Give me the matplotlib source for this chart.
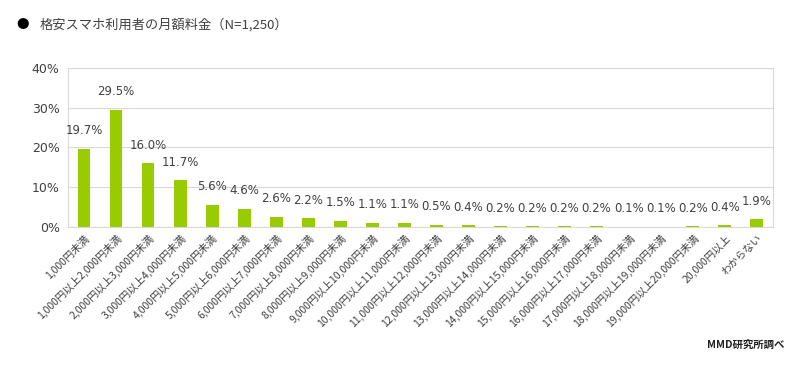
import matplotlib
matplotlib.use("Agg")
import matplotlib.pyplot as plt

plt.rcParams['font.family'] = ['Noto Sans CJK JP', 'DejaVu Sans']

# data
categories = [
    "1,000円未満",
    "1,000円以上2,000円未満",
    "2,000円以上3,000円未満",
    "3,000円以上4,000円未満",
    "4,000円以上5,000円未満",
    "5,000円以上6,000円未満",
    "6,000円以上7,000円未満",
    "7,000円以上8,000円未満",
    "8,000円以上9,000円未満",
    "9,000円以上10,000円未満",
    "10,000円以上11,000円未満",
    "11,000円以上12,000円未満",
    "12,000円以上13,000円未満",
    "13,000円以上14,000円未満",
    "14,000円以上15,000円未満",
    "15,000円以上16,000円未満",
    "16,000円以上17,000円未満",
    "17,000円以上18,000円未満",
    "18,000円以上19,000円未満",
    "19,000円以上20,000円未満",
    "20,000円以上",
    "わからない",
]
values = [19.7, 29.5, 16.0, 11.7, 5.6, 4.6, 2.6, 2.2, 1.5, 1.1, 1.1,
          0.5, 0.4, 0.2, 0.2, 0.2, 0.2, 0.1, 0.1, 0.2, 0.4, 1.9]
yticks = [0, 10, 20, 30, 40]

title = "格安スマホ利用者の月額料金（N=1,250）"
source = "MMD研究所調べ"

text_col = "#404040"
grid_col = "#d9d9d9"
bar_col = "#99cc00"

fig = plt.figure(figsize=(8, 3.66), dpi=100)
ax = fig.add_axes([0.085, 0.38, 0.881, 0.435])

x = list(range(len(values)))
ax.bar(x, values, width=0.4, color=bar_col, zorder=3)

# value labels sit ~18px above each bar top
for xi, v in zip(x, values):
    ax.annotate(f"{v:.1f}%", (xi, v), xytext=(0, 13), textcoords="offset points",
                ha="center", va="center", fontsize=8.5, color=text_col,
                family="DejaVu Sans")

ax.set_xlim(-0.5, len(values) - 0.5)
ax.set_ylim(0, 40)
ax.set_yticks(yticks)
ax.set_yticklabels([f"{t}%" for t in yticks], fontsize=9, color=text_col,
                   family="DejaVu Sans")
ax.set_xticks(x)
ax.set_xticklabels(categories, rotation=45, ha="right", rotation_mode="anchor",
                   fontsize=7.5, color=text_col)
ax.tick_params(axis="both", length=0, pad=6)
ax.tick_params(axis="x", pad=4)
ax.grid(axis="y", color=grid_col, linewidth=0.8, zorder=0)
for s in ax.spines.values():
    s.set_color(grid_col)
    s.set_linewidth(0.8)

fig.text(0.02, 0.932, "●", fontsize=9, color="black", va="center")
fig.text(0.05, 0.932, title, fontsize=9.5, color=text_col, va="center")
fig.text(0.98, 0.057, source, fontsize=7.5, fontweight="bold", color="#202020",
         ha="right", va="center")

fig.savefig("out.png", dpi=100)
